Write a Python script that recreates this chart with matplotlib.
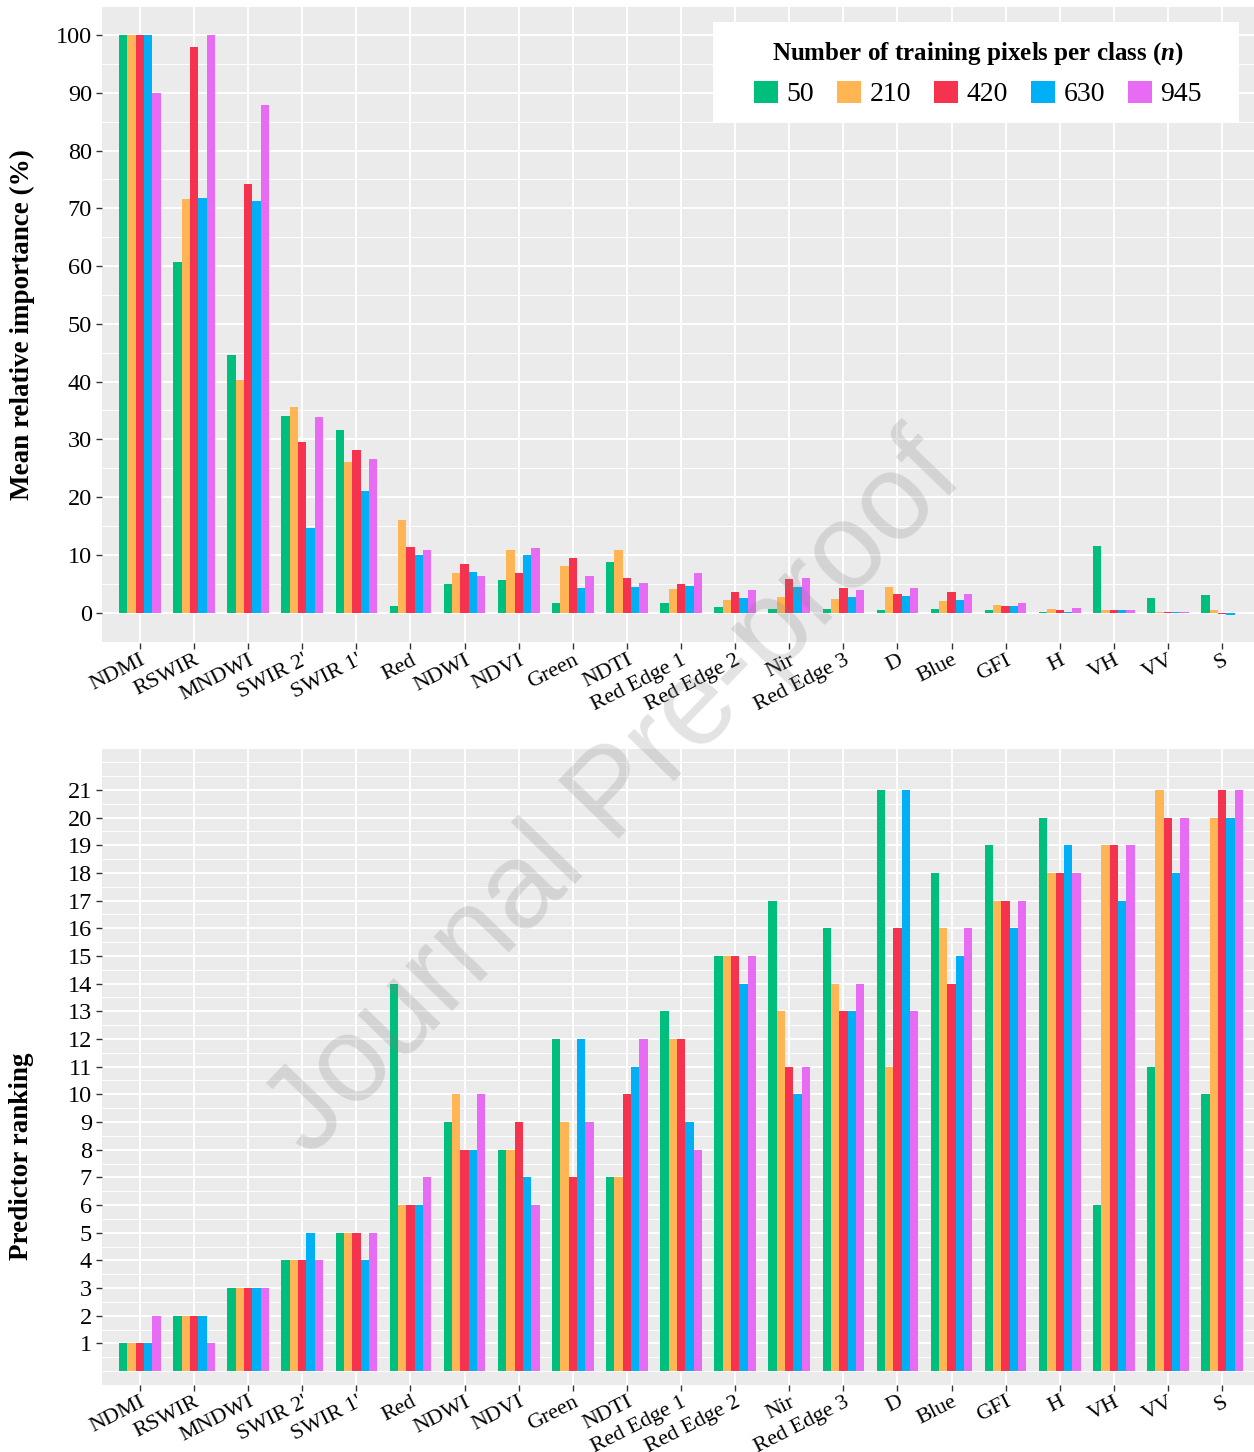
import matplotlib
matplotlib.use("Agg")
import matplotlib.pyplot as plt
from matplotlib.ticker import FixedLocator
from matplotlib.patches import Rectangle
import numpy as np

plt.rcParams['font.family'] = ['Liberation Serif', 'DejaVu Serif']
plt.rcParams['mathtext.fontset'] = 'custom'
plt.rcParams['mathtext.rm'] = 'Liberation Serif'
plt.rcParams['mathtext.it'] = 'Liberation Serif:italic:bold'
plt.rcParams['mathtext.bf'] = 'Liberation Serif:bold'

# ---------------- data ----------------
categories = ["NDMI", "RSWIR", "MNDWI", "SWIR 2'", "SWIR 1'", "Red", "NDWI", "NDVI",
              "Green", "NDTI", "Red Edge 1", "Red Edge 2", "Nir", "Red Edge 3", "D",
              "Blue", "GFI", "H", "VH", "VV", "S"]
series_labels = ["50", "210", "420", "630", "945"]

imp_50  = [100, 60.7, 44.6, 34.1, 31.7, 1.1, 5.0, 5.6, 1.7, 8.7, 1.7, 0.9, 0.6, 0.7, 0.4, 0.7, 0.5, 0.2, 11.5, 2.5, 3.1]
imp_210 = [100, 71.6, 40.3, 35.6, 26.0, 16.0, 6.9, 10.8, 8.1, 10.9, 4.1, 2.2, 2.8, 2.4, 4.4, 2.0, 1.4, 0.7, 0.5, 0.1, 0.4]
imp_420 = [100, 98.0, 74.2, 29.6, 28.2, 11.4, 8.4, 6.8, 9.5, 6.0, 5.0, 3.5, 5.8, 4.2, 3.2, 3.5, 1.1, 0.5, 0.4, 0.05, -0.15]
imp_630 = [100, 71.7, 71.2, 14.7, 21.1, 10.0, 7.0, 10.0, 4.3, 4.4, 4.6, 2.6, 4.5, 2.8, 2.9, 2.2, 1.2, 0.2, 0.4, 0.05, -0.4]
imp_945 = [90.0, 100, 87.8, 33.9, 26.6, 10.9, 6.3, 11.2, 6.3, 5.1, 6.8, 4.0, 6.0, 4.0, 4.3, 3.3, 1.7, 0.8, 0.4, 0.05, -0.1]

rank_50  = [1, 2, 3, 4, 5, 14, 9, 8, 12, 7, 13, 15, 17, 16, 21, 18, 19, 20, 6, 11, 10]
rank_210 = [1, 2, 3, 4, 5, 6, 10, 8, 9, 7, 12, 15, 13, 14, 11, 16, 17, 18, 19, 21, 20]
rank_420 = [1, 2, 3, 4, 5, 6, 8, 9, 7, 10, 12, 15, 11, 13, 16, 14, 17, 18, 19, 20, 21]
rank_630 = [1, 2, 3, 5, 4, 6, 8, 7, 12, 11, 9, 14, 10, 13, 21, 15, 16, 19, 17, 18, 20]
rank_945 = [2, 1, 3, 4, 5, 7, 10, 6, 9, 12, 8, 15, 11, 14, 13, 16, 17, 18, 19, 20, 21]

importance = [imp_50, imp_210, imp_420, imp_630, imp_945]
ranking = [rank_50, rank_210, rank_420, rank_630, rank_945]

colors = ['#00BF7D', '#FFB554', '#F5334F', '#00B0F6', '#E76BF3']

# ---------------- figure ----------------
W, H = 1254, 1452
fig = plt.figure(figsize=(W / 100, H / 100), dpi=100)

def frac(x0, y0, x1, y1):
    return [x0 / W, 1 - y1 / H, (x1 - x0) / W, (y1 - y0) / H]

AX_L, AX_R = 101.7, 1254
T_TOP, T_BOT = 6.7, 643.3
ax1 = fig.add_axes(frac(AX_L, T_TOP, AX_R, T_BOT))
ax2 = fig.add_axes(frac(AX_L, 748.3, AX_R, 1385))

x = np.arange(len(categories))
group_w = 0.77
bw = group_w / len(series_labels)


def draw(ax, data):
    handles = []
    for i, (vals, c) in enumerate(zip(data, colors)):
        h = ax.bar(x + (i - 2) * bw, vals, width=bw, color=c, linewidth=0, zorder=2,
                   label=series_labels[i])
        handles.append(h)
    ax.set_facecolor('#EBEBEB')
    for s in ax.spines.values():
        s.set_visible(False)
    ax.set_axisbelow(True)
    ax.grid(which='major', color='white', linewidth=1.4)
    ax.grid(which='minor', axis='y', color='white', linewidth=0.7)
    ax.set_xticks(x)
    ax.set_xticklabels(categories, rotation=27, ha='right', va='top',
                       rotation_mode='anchor', fontsize=16)
    ax.tick_params(which='major', length=4, width=1, color='#333333',
                   labelcolor='black', pad=3)
    ax.tick_params(axis='x', pad=1.5)
    ax.tick_params(axis='y', labelsize=17.5)
    ax.tick_params(which='minor', length=0)
    ax.set_xlim(-0.707, 20.59)
    return handles


handles = draw(ax1, importance)
ax1.set_ylim(-5.3, 104.9)
ax1.set_yticks(np.arange(0, 101, 10))
ax1.yaxis.set_minor_locator(FixedLocator(np.arange(-5, 106, 10)))

draw(ax2, ranking)
ax2.set_ylim(-0.5, 22.5)
ax2.set_yticks(np.arange(1, 22, 1))
minor = [v for v in np.arange(0, 22.51, 0.5) if not (1 <= v <= 21 and float(v).is_integer())]
ax2.yaxis.set_minor_locator(FixedLocator(minor))

# legend: white box behind a frameless legend
def axfrac(px, py):
    return ((px - AX_L) / (AX_R - AX_L), 1 - (py - T_TOP) / (T_BOT - T_TOP))

bx0, by0 = axfrac(713, 122)
bx1, by1 = axfrac(1239, 22)
ax1.add_patch(Rectangle((bx0, by0), bx1 - bx0, by1 - by0, transform=ax1.transAxes,
                        facecolor='white', edgecolor='none', zorder=4))
lx, ly = axfrac(978, 40)
leg = ax1.legend(handles, series_labels, ncol=5, loc='upper center',
                 bbox_to_anchor=(lx, ly),
                 title=r"Number of training pixels per class ($n$)",
                 title_fontproperties={'weight': 'bold', 'size': 18,
                                       'family': 'Liberation Serif'},
                 prop={'family': 'Liberation Serif', 'size': 20},
                 frameon=False, handlelength=0.85,
                 handleheight=0.85, handletextpad=0.3, columnspacing=0.85,
                 borderpad=0, borderaxespad=0)
leg.set_zorder(5)

fig.text(22 / W, 1 - 325 / H, 'Mean relative importance (%)', rotation=90,
         ha='center', va='center', fontsize=19.5, weight='bold')
fig.text(22 / W, 1 - 1156 / H, 'Predictor ranking', rotation=90,
         ha='center', va='center', fontsize=19.5, weight='bold')

fig.text(615 / W, 1 - 797 / H, 'Journal Pre-proof', rotation=46,
         ha='center', va='center', fontsize=88, family='Liberation Sans',
         color='#808080', alpha=0.22, zorder=10)

fig.savefig('out.png', dpi=100, facecolor='white')
